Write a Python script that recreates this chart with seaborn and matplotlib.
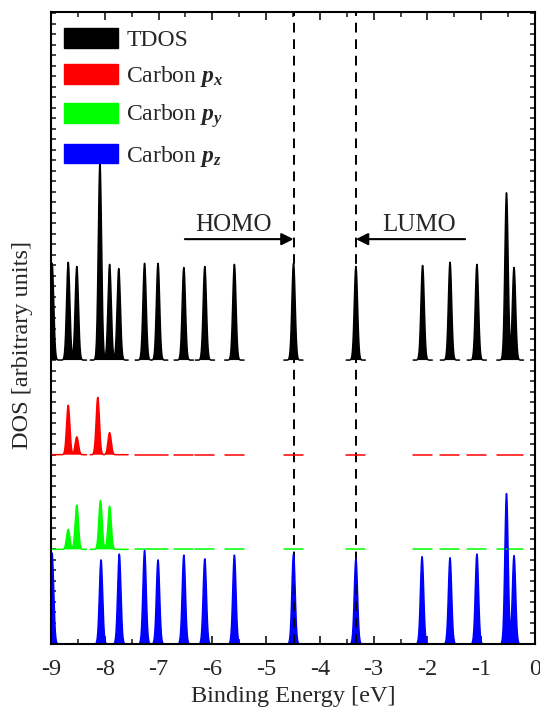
import numpy as np
import pandas as pd
import matplotlib
matplotlib.use("Agg")
import matplotlib.pyplot as plt
from matplotlib.patches import Patch
from matplotlib.ticker import MultipleLocator
import seaborn as sns

# ---------------- data ----------------
series_names = ["TDOS", "Carbon px", "Carbon py", "Carbon pz"]
series_colors = ["#000000", "#ff0000", "#00ff00", "#0000ff"]
series_offsets = [27.0, 18.0, 9.0, 0.0]

tdos_centers = [-8.98, -8.68, -8.52, -8.09, -7.91, -7.74, -7.26, -7.01, -6.53,
                -6.14, -5.59, -4.49, -3.33, -2.09, -1.58, -1.08, -0.53, -0.39]
tdos_heights = [9.2, 9.3, 8.9, 18.8, 9.1, 8.7, 9.2, 9.2, 8.8,
                8.9, 9.1, 9.2, 8.9, 9.0, 9.3, 9.1, 15.9, 8.8]

px_centers = [-8.68, -8.52, -8.13, -7.91]
px_heights = [4.7, 1.7, 5.45, 2.1]

py_centers = [-8.68, -8.52, -8.08, -7.91]
py_heights = [1.9, 4.2, 4.65, 4.1]

pz_centers = [-8.98, -8.07, -7.73, -7.26, -7.01, -6.53, -6.14, -5.59,
              -4.49, -3.33, -2.10, -1.58, -1.08, -0.53, -0.39]
pz_heights = [8.65, 8.0, 8.55, 8.9, 8.0, 8.45, 8.1, 8.45,
              8.55, 8.1, 8.3, 8.2, 8.55, 14.3, 8.4]

homo_energy = -4.49
lumo_energy = -3.33

x_ticks = [-9, -8, -7, -6, -5, -4, -3, -2, -1, 0]
x_tick_labels = ["-9", "-8", "-7", "-6", "-5", "-4", "-3", "-2", "-1", "0"]

# ---------------- build curves ----------------
sigma = 0.03
window = 0.18
E = np.round(np.arange(-9.2, 0.0001, 0.005), 4)
mask = np.zeros_like(E, dtype=bool)
for c in tdos_centers:
    mask |= np.abs(E - c) <= window
seg = np.cumsum(np.r_[mask[0], (mask[1:] & ~mask[:-1])])

def curve(centers, heights):
    y = np.zeros_like(E)
    for c, h in zip(centers, heights):
        y += h * np.exp(-(E - c) ** 2 / (2 * sigma ** 2))
    return y

curves = [curve(tdos_centers, tdos_heights), curve(px_centers, px_heights),
          curve(py_centers, py_heights), curve(pz_centers, pz_heights)]

frames = []
for name, off, y in zip(series_names, series_offsets, curves):
    frames.append(pd.DataFrame({"E": E[mask], "DOS": y[mask] + off,
                                "series": name, "seg": seg[mask]}))
df = pd.concat(frames, ignore_index=True)

# ---------------- plot ----------------
sns.set_theme(style="ticks")
plt.rcParams["font.family"] = ["Liberation Serif", "DejaVu Serif"]
plt.rcParams["mathtext.fontset"] = "custom"
plt.rcParams["mathtext.rm"] = "Liberation Serif"
plt.rcParams["mathtext.it"] = "Liberation Serif:italic"
plt.rcParams["mathtext.bf"] = "Liberation Serif:bold"
try:
    plt.rcParams["mathtext.bfit"] = "Liberation Serif:italic:bold"
except KeyError:
    pass

fig = plt.figure(figsize=(5.4, 7.19), dpi=100)
ax = fig.add_axes([51 / 540, 1 - 644 / 719, (535 - 51) / 540, (644 - 12) / 719])

palette = dict(zip(series_names, series_colors))
sns.lineplot(data=df, x="E", y="DOS", hue="series", units="seg", estimator=None,
             palette=palette, linewidth=1.1, ax=ax, legend=False, sort=False)

for name, off, y, col in zip(series_names, series_offsets, curves, series_colors):
    yy = np.where(mask, y + off, np.nan)
    ax.fill_between(E, off, yy, where=mask, color=col, linewidth=0)

for xv in (homo_energy, lumo_energy):
    ax.axvline(xv, color="black", linestyle=(0, (5, 3.5)), linewidth=1.4, zorder=1)

ax.annotate("", xy=(homo_energy, 38.5), xytext=(-6.51, 38.5),
            arrowprops=dict(arrowstyle="-|>", color="black", lw=1.5,
                            mutation_scale=18, shrinkA=0, shrinkB=0))
ax.annotate("", xy=(lumo_energy, 38.5), xytext=(-1.30, 38.5),
            arrowprops=dict(arrowstyle="-|>", color="black", lw=1.5,
                            mutation_scale=18, shrinkA=0, shrinkB=0))
ax.text(-5.60, 39.8, "HOMO", ha="center", va="center", fontsize=18)
ax.text(-2.15, 39.8, "LUMO", ha="center", va="center", fontsize=18)

ax.set_xlim(-9, 0)
ax.set_ylim(0, 60.1)
ax.set_xticks(x_ticks)
ax.set_xticklabels(x_tick_labels)
ax.xaxis.set_minor_locator(MultipleLocator(0.5))
ax.yaxis.set_major_locator(MultipleLocator(1))
ax.set_yticklabels([])
ax.tick_params(axis="x", which="major", direction="in", length=6, width=1.3,
               top=True, bottom=True, labelsize=17.5, pad=11)
ax.tick_params(axis="x", which="minor", direction="in", length=3.5, width=1.2,
               top=True, bottom=True)
ax.tick_params(axis="y", which="major", direction="in", length=3.5, width=1.2,
               left=True, right=True)
for sp in ax.spines.values():
    sp.set_linewidth(1.5)
    sp.set_color("black")

ax.set_xlabel("Binding Energy [eV]", fontsize=17.5, labelpad=4)
ax.set_ylabel("DOS [arbitrary units]", fontsize=17.5)
ax.yaxis.set_label_coords(-0.037, 0.473)

legend_labels = ["TDOS", r"Carbon $\mathbfit{p}_{\mathbfit{x}}$",
                 r"Carbon $\mathbfit{p}_{\mathbfit{y}}$",
                 r"Carbon $\mathbfit{p}_{\mathbfit{z}}$"]
handles = [Patch(facecolor=c, edgecolor=c) for c in series_colors]
ax.legend(handles, legend_labels, loc="upper left", frameon=False, fontsize=17,
          handlelength=2.3, handleheight=0.9, handletextpad=0.33,
          labelspacing=0.56, borderpad=0.4, borderaxespad=0.15,
          bbox_to_anchor=(0.0, 0.995))

fig.savefig("out.png", dpi=100)
